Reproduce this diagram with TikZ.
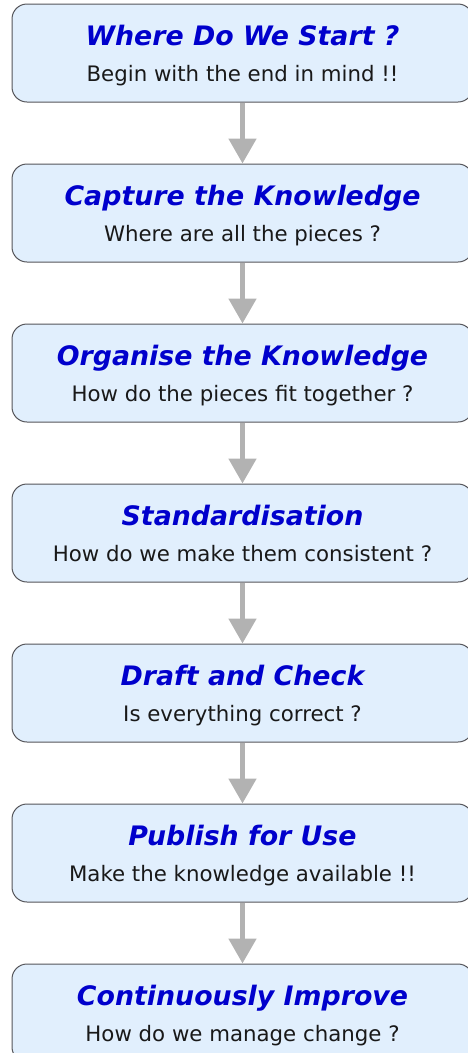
\documentclass[tikz,border=0pt]{standalone}
\usepackage{fontspec}
\setmainfont{DejaVu Sans}
\usetikzlibrary{positioning,arrows.meta}
\definecolor{boxfill}{RGB}{225,239,253}
\definecolor{boxline}{RGB}{85,85,90}
\definecolor{titleblue}{RGB}{0,0,204}
\definecolor{arrowgray}{RGB}{178,178,178}
\tikzset{
  stage/.style={draw=boxline, fill=boxfill, line width=1pt, rounded corners=15pt,
    minimum width=461pt, minimum height=98pt, inner sep=0pt},
  stagetitle/.style={font=\fontsize{26.8}{30}\selectfont\bfseries\itshape, text=titleblue,
    anchor=base, inner sep=0pt},
  stagenote/.style={font=\fontsize{21.3}{24}\selectfont, text=black!90, anchor=base, inner sep=0pt},
  flow/.style={draw=arrowgray, line width=5pt, -{Triangle[length=25pt,width=27pt]}}
}
\begin{document}
\begin{tikzpicture}
\useasboundingbox (0,0) rectangle (468pt,-1053pt);
% the seven stages
\node[stage] (s1) at (242.5pt,-53pt) {};
\node[stage, below=61pt of s1] (s2) {};
\node[stage, below=61pt of s2] (s3) {};
\node[stage, below=61pt of s3] (s4) {};
\node[stage, below=61pt of s4] (s5) {};
\node[stage, below=61pt of s5] (s6) {};
\node[stage, below=61pt of s6] (s7) {};
% arrows
\draw[flow] (s1) -- (s2);
\draw[flow] (s2) -- (s3);
\draw[flow] (s3) -- (s4);
\draw[flow] (s4) -- (s5);
\draw[flow] (s5) -- (s6);
\draw[flow] (s6) -- (s7);
% texts
\node[stagetitle] (t1) at ([yshift=-42pt]s1.north) {Where Do We Start ?};
\node[stagenote] (n1) at ([yshift=-77.5pt]s1.north) {Begin with the end in mind !!};
\node[stagetitle] (t2) at ([yshift=-42pt]s2.north) {Capture the Knowledge};
\node[stagenote] (n2) at ([yshift=-77.5pt]s2.north) {Where are all the pieces ?};
\node[stagetitle] (t3) at ([yshift=-42pt]s3.north) {Organise the Knowledge};
\node[stagenote] (n3) at ([yshift=-77.5pt]s3.north) {How do the pieces fit together ?};
\node[stagetitle] (t4) at ([yshift=-42pt]s4.north) {Standardisation};
\node[stagenote] (n4) at ([yshift=-77.5pt]s4.north) {How do we make them consistent ?};
\node[stagetitle] (t5) at ([yshift=-42pt]s5.north) {Draft and Check};
\node[stagenote] (n5) at ([yshift=-77.5pt]s5.north) {Is everything correct ?};
\node[stagetitle] (t6) at ([yshift=-42pt]s6.north) {Publish for Use};
\node[stagenote] (n6) at ([yshift=-77.5pt]s6.north) {Make the knowledge available !!};
\node[stagetitle] (t7) at ([yshift=-42pt]s7.north) {Continuously Improve};
\node[stagenote] (n7) at ([yshift=-77.5pt]s7.north) {How do we manage change ?};
\end{tikzpicture}
\end{document}
